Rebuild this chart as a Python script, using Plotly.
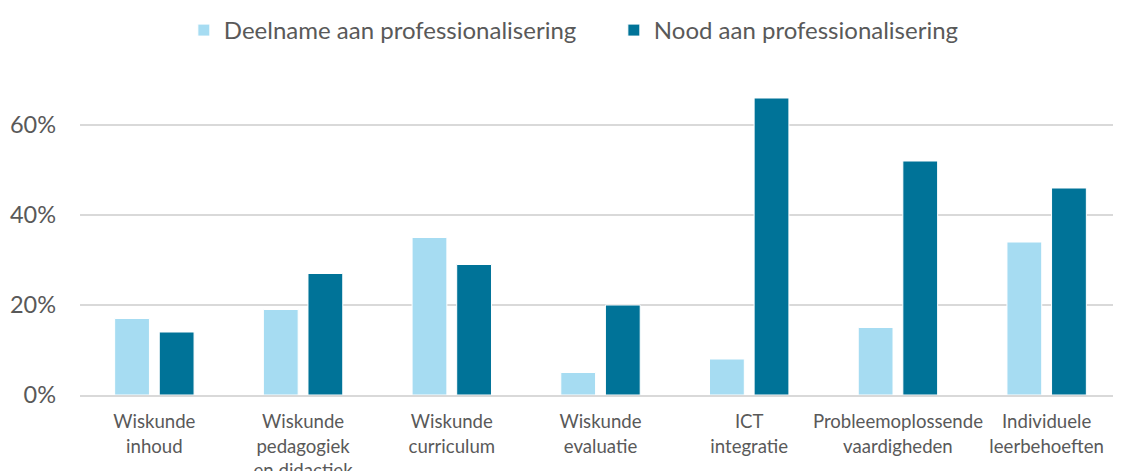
import plotly.graph_objects as go

categories = [
    'Wiskunde<br>inhoud',
    'Wiskunde<br>pedagogiek<br>en didactiek',
    'Wiskunde<br>curriculum',
    'Wiskunde<br>evaluatie',
    'ICT<br>integratie',
    'Probleemoplossende<br>vaardigheden',
    'Individuele<br>leerbehoeften',
]
deelname = [0.17, 0.19, 0.35, 0.05, 0.08, 0.15, 0.34]
nood = [0.14, 0.27, 0.29, 0.20, 0.66, 0.52, 0.46]

tick_vals = [0, 0.2, 0.4, 0.6]
tick_text = ['0%', '20%', '40%', '60%']

FONT = 'Lato, Arial, sans-serif'
GREY = '#595959'

fig = go.Figure()
fig.add_trace(go.Bar(
    x=categories, y=deelname, name='Deelname aan professionalisering',
    marker=dict(color='#a6dcf2', line=dict(color='white', width=1))
))
fig.add_trace(go.Bar(
    x=categories, y=nood, name='Nood aan professionalisering',
    marker=dict(color='#007398', line=dict(color='white', width=1))
))

# page has an 8px body margin, so the figure is a bit smaller than the window
fig.update_layout(
    width=1113, height=463,
    barmode='group', bargap=0.4, bargroupgap=0.22,
    plot_bgcolor='white', paper_bgcolor='white',
    margin=dict(l=72, r=0, t=72, b=76),
    font=dict(family=FONT, color=GREY),
    showlegend=True,
    legend=dict(orientation='h', xref='container', x=0.158, xanchor='left',
                yref='container', y=1.0, yanchor='top',
                font=dict(size=24, color=GREY),
                itemwidth=30, entrywidth=385),
)
fig.update_xaxes(
    tickfont=dict(size=18.6, color=GREY), showline=True, linecolor='#d9d9d9',
    linewidth=2, ticks='', showgrid=False, ticklabelstandoff=9,
    automargin=False
)
fig.update_yaxes(
    range=[0, 0.7], tickvals=tick_vals, ticktext=tick_text,
    tickfont=dict(size=23.5, color=GREY), showgrid=True, gridcolor='#d9d9d9',
    gridwidth=1.5, zeroline=False, ticks='', ticklabelstandoff=23,
    automargin=False
)

fig.write_html('out.html')
